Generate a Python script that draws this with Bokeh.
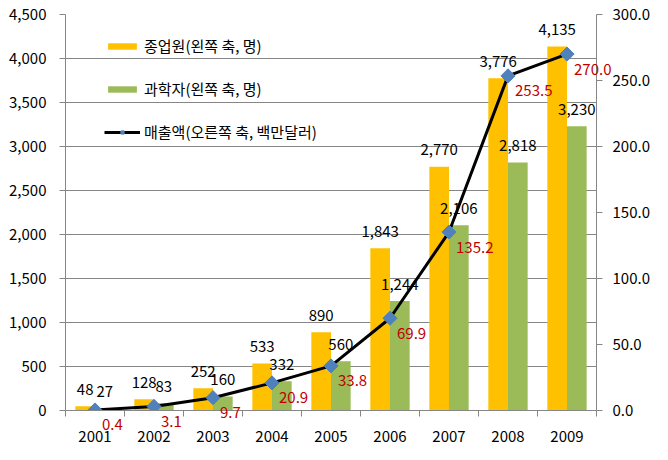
import numpy as np
from bokeh.plotting import figure
from bokeh.models import (Range1d, LinearAxis, FixedTicker, NumeralTickFormatter,
                          ColumnDataSource, Legend, LegendItem)
from bokeh.embed import file_html
from bokeh.resources import INLINE
from bokeh.core.properties import value

# ---- data ----
years = ["2001", "2002", "2003", "2004", "2005", "2006", "2007", "2008", "2009"]
employees = [48, 128, 252, 533, 890, 1843, 2770, 3776, 4135]
scientists = [27, 83, 160, 332, 560, 1244, 2106, 2818, 3230]
sales = [0.4, 3.1, 9.7, 20.9, 33.8, 69.9, 135.2, 253.5, 270.0]
left_ticks = [0, 500, 1000, 1500, 2000, 2500, 3000, 3500, 4000, 4500]
right_ticks = [0, 50, 100, 150, 200, 250, 300]
series_names = ["종업원(왼쪽 축, 명)", "과학자(왼쪽 축, 명)", "매출액(오른쪽 축, 백만달러)"]

FONT = "Noto Sans CJK KR"
FS = "15px"
GRID = "#868686"
ORANGE = "#FFC000"
GREEN = "#9BBB59"
BLUE = "#4F81BD"
RED = "#C00000"

n = len(years)
xc = np.arange(n) + 0.5
bw = 1.0 / 3.0

src = ColumnDataSource(dict(
    xc=xc,
    x_emp=xc - bw / 2,
    x_sci=xc + bw / 2,
    emp=employees,
    sci=scientists,
    sales=sales,
    emp_lbl=[f"{v:,}" for v in employees],
    sci_lbl=[f"{v:,}" for v in scientists],
    sales_lbl=[f"{v:.1f}" for v in sales],
))

p = figure(width=652, height=444, output_backend="svg", toolbar_location=None,
           x_range=Range1d(0, n), y_range=Range1d(left_ticks[0], left_ticks[-1]),
           min_border_left=65, min_border_right=46, min_border_top=14, min_border_bottom=34)
p.extra_y_ranges = {"right": Range1d(right_ticks[0], right_ticks[-1])}
p.outline_line_color = None
p.background_fill_color = "white"

# grid
p.xgrid.grid_line_color = None
p.ygrid.ticker = FixedTicker(ticks=left_ticks)
p.ygrid.grid_line_color = GRID
p.ygrid.grid_line_width = 1

# left axis
ya = p.yaxis[0]
ya.ticker = FixedTicker(ticks=left_ticks)
ya.formatter = NumeralTickFormatter(format="0,0")
ya.axis_line_color = GRID
ya.major_tick_line_color = GRID
ya.major_tick_out = 6
ya.major_tick_in = 0
ya.minor_tick_line_color = None
ya.major_label_standoff = 13
ya.major_label_text_font = FONT
ya.major_label_text_font_size = FS
ya.major_label_text_color = "black"

# right axis
ra = LinearAxis(y_range_name="right", ticker=FixedTicker(ticks=right_ticks),
                formatter=NumeralTickFormatter(format="0.0"))
ra.axis_line_color = GRID
ra.major_tick_line_color = GRID
ra.major_tick_out = 6
ra.major_tick_in = 0
ra.minor_tick_line_color = None
ra.major_label_standoff = 10
ra.major_label_text_font = FONT
ra.major_label_text_font_size = FS
ra.major_label_text_color = "black"
p.add_layout(ra, "right")

# x axis
xa = p.xaxis[0]
xa.ticker = FixedTicker(ticks=list(xc), minor_ticks=list(range(n + 1)))
xa.major_label_overrides = {float(x): y for x, y in zip(xc, years)}
xa.axis_line_color = GRID
xa.major_tick_line_color = None
xa.major_tick_out = 0
xa.major_tick_in = 0
xa.minor_tick_line_color = GRID
xa.minor_tick_out = 6
xa.minor_tick_in = 0
xa.major_label_standoff = 14
xa.major_label_text_font = FONT
xa.major_label_text_font_size = FS
xa.major_label_text_color = "black"

# bars
b1 = p.vbar(x="x_emp", top="emp", width=bw, source=src, fill_color=ORANGE, line_color=None)
b2 = p.vbar(x="x_sci", top="sci", width=bw, source=src, fill_color=GREEN, line_color=None)

# line + markers
ln = p.line(x="xc", y="sales", source=src, y_range_name="right", line_color="black", line_width=3)
mk = p.scatter(x="xc", y="sales", source=src, y_range_name="right", marker="square",
               angle=np.pi / 4, size=10, fill_color=BLUE, line_color=BLUE)

# labels
p.text(x="x_emp", y="emp", text="emp_lbl", source=src, text_align="center",
       text_baseline="middle", y_offset=-17, text_font=value(FONT),
       text_font_size=value(FS), text_color="black")
p.text(x="x_sci", y="sci", text="sci_lbl", source=src, text_align="center",
       text_baseline="middle", y_offset=-17, text_font=value(FONT),
       text_font_size=value(FS), text_color="black")
p.text(x="xc", y="sales", text="sales_lbl", source=src, y_range_name="right",
       text_align="left", text_baseline="middle", x_offset=7, y_offset=15,
       text_font=value(FONT), text_font_size=value(FS), text_color=RED, level="overlay")

# legend
legend = Legend(items=[
    LegendItem(label=series_names[0], renderers=[b1]),
    LegendItem(label=series_names[1], renderers=[b2]),
    LegendItem(label=series_names[2], renderers=[ln, mk]),
], location=(39, 268))
legend.background_fill_alpha = 0
legend.border_line_alpha = 0
legend.padding = 0
legend.margin = 0
legend.glyph_width = 36
legend.glyph_height = 8
legend.label_height = 16
legend.spacing = 22
legend.label_standoff = 4
legend.label_text_font = FONT
legend.label_text_font_size = FS
legend.label_text_color = "black"
p.add_layout(legend, "center")

open("out.html", "w").write(file_html(p, INLINE))
